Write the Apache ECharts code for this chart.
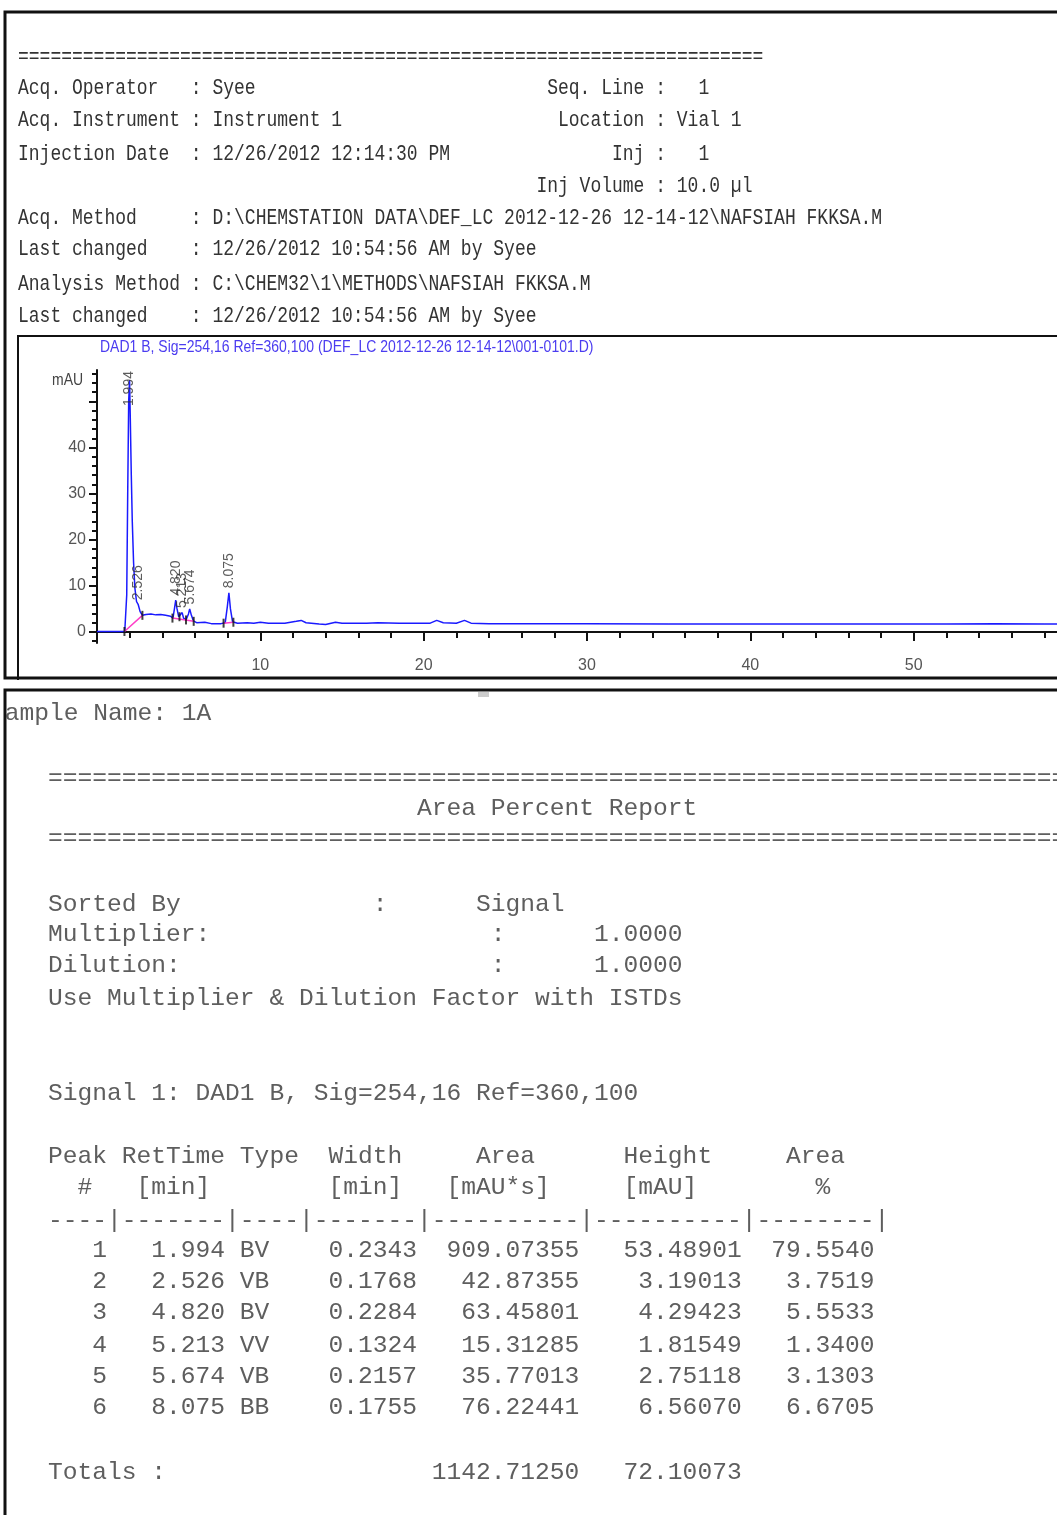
<!DOCTYPE html>
<html>
<head>
<meta charset="utf-8">
<script src="https://cdn.jsdelivr.net/npm/echarts@6/dist/echarts.min.js"></script>
<style>
html, body { margin: 0; padding: 0; background: #fff; overflow: hidden; }
#report { width: 1057px; height: 1515px; }
</style>
</head>
<body>
<div id="report"></div>
<script>
// ---- report header (top box) ----
var headerLeft = [
  'Acq. Operator   : Syee',
  'Acq. Instrument : Instrument 1',
  'Injection Date  : 12/26/2012 12:14:30 PM',
  '',
  'Acq. Method     : D:\\CHEMSTATION DATA\\DEF_LC 2012-12-26 12-14-12\\NAFSIAH FKKSA.M',
  'Last changed    : 12/26/2012 10:54:56 AM by Syee',
  'Analysis Method : C:\\CHEM32\\1\\METHODS\\NAFSIAH FKKSA.M',
  'Last changed    : 12/26/2012 10:54:56 AM by Syee'
];
var headerRight = ['Seq. Line :   1', 'Location : Vial 1', 'Inj :   1', 'Inj Volume : 10.0 µl', '', '', '', ''];
var chartTitle = 'DAD1 B, Sig=254,16 Ref=360,100 (DEF_LC 2012-12-26 12-14-12\\001-0101.D)';

// ---- chromatogram trace (min, mAU) ----
var traceTime = [0, 1.70, 1.76, 1.82, 1.88, 1.94, 1.994, 2.04, 2.10, 2.16, 2.24, 2.32, 2.42, 2.526, 2.64, 2.78,
  2.9, 3.0, 3.3, 3.6, 3.9, 4.2, 4.5, 4.65, 4.75, 4.82, 4.9, 5.0, 5.1, 5.213, 5.3, 5.45, 5.6, 5.674, 5.78, 5.9,
  6.1, 6.6, 7.0, 7.6, 7.85, 7.98, 8.075, 8.17, 8.3, 8.6, 9.2, 9.6, 10.0, 10.5, 11.5, 12.2, 12.5, 12.8, 13.6,
  14.0, 14.6, 15.0, 16.5, 17.2, 18.5, 20.4, 20.8, 21.2, 22.0, 22.5, 22.9, 24, 30, 35, 45, 52, 55, 58, 60];
var traceMAU = [0.1, 0.1, 0.4, 8, 30, 50, 54.6, 46, 34, 24, 15, 9.5, 6.6, 5.9, 4.4, 3.6,
  3.4, 3.8, 3.9, 3.7, 3.8, 3.6, 3.4, 3.0, 5.2, 6.9, 5.0, 3.3, 3.4, 4.2, 3.0, 2.6, 3.9, 5.0, 3.6, 2.4,
  2.0, 2.1, 1.8, 1.8, 2.0, 5.5, 8.5, 5.0, 2.2, 1.9, 2.0, 1.9, 2.1, 1.9, 1.9, 2.3, 2.5, 2.0, 1.7,
  1.6, 2.1, 1.9, 1.9, 2.0, 1.9, 1.9, 2.5, 2.0, 1.9, 2.5, 1.9, 1.8, 1.8, 1.7, 1.7, 1.7, 1.8, 1.7, 1.7];

// integration baselines (pink), null splits segments
var baseTime = [1.68, 2.78, null, 4.62, 5.92, null, 7.75, 8.35];
var baseMAU  = [0.1, 3.6, null, 3.0, 2.3, null, 1.9, 2.1];

// peak start/stop marks
var markTime = [1.68, 2.78, 4.62, 5.05, 5.45, 5.92, 7.75, 8.35];
var markMAU  = [0.1, 3.6, 3.0, 3.3, 2.6, 2.3, 1.9, 2.1];

// ---- Area Percent Report ----
var peakNo = [1, 2, 3, 4, 5, 6];
var retTime = [1.994, 2.526, 4.820, 5.213, 5.674, 8.075];
var peakType = ['BV', 'VB', 'BV', 'VV', 'VB', 'BB'];
var peakWidth = [0.2343, 0.1768, 0.2284, 0.1324, 0.2157, 0.1755];
var peakArea = [909.07355, 42.87355, 63.45801, 15.31285, 35.77013, 76.22441];
var peakHeight = [53.48901, 3.19013, 4.29423, 1.81549, 2.75118, 6.56070];
var areaPct = [79.5540, 3.7519, 5.5533, 1.3400, 3.1303, 6.6705];
var peakApex = [54.6, 5.9, 6.9, 4.2, 5.0, 8.5];
var totalArea = '1142.71250';
var totalHeight = '72.10073';

var yMajorTicks = [0, 10, 20, 30, 40, 50];
var yLabelTicks = [0, 10, 20, 30, 40];
var yMinorTicks = [-2, 2, 4, 6, 8, 12, 14, 16, 18, 22, 24, 26, 28, 32, 34, 36, 38, 42, 44, 46, 48, 52, 54, 56];

function pairs(xs, ys) {
  return xs.map(function (x, i) { return x === null ? ['-', '-'] : [x, ys[i]]; });
}

var graphics = [];
function addText(x, y, s, font) {
  graphics.push({
    type: 'text', x: x, y: y, scaleY: font.sy || 1, silent: true, z: 10,
    style: {
      text: s, fontFamily: font.family, fontSize: font.size, fontWeight: font.weight || 'normal',
      fill: font.color, align: 'left', verticalAlign: 'middle'
    }
  });
}

// top header text
var hdrFont = { family: 'Liberation Mono', size: 18, color: '#333', sy: 1.25 };
var hdrX = 18, hdrCw = 10.8;
var hdrY = [88, 120, 154, 186, 218, 249, 284, 316];
addText(hdrX, 57, new Array(70).join('='), hdrFont);
headerLeft.forEach(function (s, i) {
  if (s) addText(hdrX, hdrY[i], s, hdrFont);
  var r = headerRight[i];
  if (r) addText(hdrX + (59 - r.indexOf(':')) * hdrCw, hdrY[i], r, hdrFont);
});

// chart title and unit
addText(100, 348, chartTitle, { family: 'Liberation Sans', size: 14, color: '#4b3cf0', sy: 1.15 });
addText(52, 380, 'mAU', { family: 'Liberation Sans', size: 14, color: '#444', sy: 1.2 });

// lower report text
var repFont = { family: 'Liberation Mono', size: 24.6, color: '#5e5e5e' };
var repX = 48;
var eqLine = new Array(72).join('=');
addText(-10, 713, 'Sample Name: 1A', repFont);
addText(repX, 778, eqLine, repFont);
addText(repX, 808, new Array(26).join(' ') + 'Area Percent Report', repFont);
addText(repX, 838, eqLine, repFont);
addText(repX, 904, 'Sorted By             :      Signal', repFont);
addText(repX, 934, 'Multiplier:                   :      1.0000', repFont);
addText(repX, 965, 'Dilution:                     :      1.0000', repFont);
addText(repX, 998, 'Use Multiplier & Dilution Factor with ISTDs', repFont);
addText(repX, 1093, 'Signal 1: DAD1 B, Sig=254,16 Ref=360,100', repFont);
addText(repX, 1156, 'Peak RetTime Type  Width     Area      Height     Area', repFont);
addText(repX, 1187, '  #   [min]        [min]   [mAU*s]     [mAU]        %', repFont);
addText(repX, 1220, '----|-------|----|-------|----------|----------|--------|', repFont);
var rowY = [1250, 1281, 1312, 1345, 1376, 1407];
peakNo.forEach(function (n, i) {
  var line = String(n).padStart(4) + retTime[i].toFixed(3).padStart(8) + ' ' + peakType[i].padEnd(4) +
    peakWidth[i].toFixed(4).padStart(8) + peakArea[i].toFixed(5).padStart(11) +
    peakHeight[i].toFixed(5).padStart(11) + areaPct[i].toFixed(4).padStart(9);
  addText(repX, rowY[i], line, repFont);
});
addText(repX, 1472, 'Totals :'.padEnd(25) + totalArea.padStart(11) + totalHeight.padStart(11), repFont);

// frames
graphics.push({ type: 'rect', silent: true, z: 20, shape: { x: 0, y: 690, width: 5, height: 830 },
  style: { fill: '#fff' } });
graphics.push({ type: 'rect', silent: true, z: 21, shape: { x: 5, y: 12, width: 1100, height: 666 },
  style: { fill: 'none', stroke: '#111', lineWidth: 3 } });
graphics.push({ type: 'polyline', silent: true, z: 21, shape: { points: [[18, 680], [18, 336], [1100, 336]] },
  style: { fill: 'none', stroke: '#111', lineWidth: 2 } });
graphics.push({ type: 'polyline', silent: true, z: 21, shape: { points: [[5, 1600], [5, 690], [1100, 690]] },
  style: { fill: 'none', stroke: '#111', lineWidth: 3 } });
graphics.push({ type: 'rect', silent: true, z: 21, shape: { x: 478, y: 692, width: 11, height: 5 },
  style: { fill: '#cccccc' } });

var axisColor = '#111';
var labelStyle = { fontFamily: 'Liberation Sans', fontSize: 16, color: '#555' };

var chart = echarts.init(document.getElementById('report'));
chart.setOption({
  animation: false,
  backgroundColor: '#fff',
  graphic: graphics,
  grid: { left: 97, right: -20, top: 370, bottom: 872, containLabel: false, outerBoundsMode: 'none' },
  xAxis: {
    type: 'value', min: 0, max: 60, interval: 10,
    axisLine: { lineStyle: { color: axisColor, width: 2 } },
    axisTick: { length: 9, lineStyle: { color: axisColor, width: 2 } },
    minorTick: { show: true, splitNumber: 5, length: 6, lineStyle: { color: axisColor, width: 2 } },
    axisLabel: Object.assign({ margin: 15, formatter: function (v) { return v === 0 ? '' : v; } }, labelStyle),
    splitLine: { show: false }
  },
  yAxis: [{
    type: 'value', min: -2.4, max: 56.8, position: 'left',
    axisLine: { show: true, onZero: false, lineStyle: { color: axisColor, width: 2 } },
    axisTick: { show: true, length: 8, customValues: yMajorTicks, lineStyle: { color: axisColor, width: 2 } },
    axisLabel: Object.assign({ margin: 11, customValues: yLabelTicks }, labelStyle),
    splitLine: { show: false }
  }, {
    type: 'value', min: -2.4, max: 56.8, position: 'left',
    axisLine: { show: false },
    axisTick: { show: true, length: 5, customValues: yMinorTicks, lineStyle: { color: axisColor, width: 2 } },
    axisLabel: { show: false },
    splitLine: { show: false }
  }],
  series: [{
    type: 'line', name: 'DAD1 B', data: pairs(traceTime, traceMAU),
    symbol: 'none', lineStyle: { color: '#1a1aff', width: 1.5 }, z: 3
  }, {
    type: 'line', name: 'baseline', data: pairs(baseTime, baseMAU), connectNulls: false,
    symbol: 'none', lineStyle: { color: '#ff3ec8', width: 1.5 }, z: 4
  }, {
    type: 'scatter', name: 'marks', data: pairs(markTime, markMAU),
    symbol: 'rect', symbolSize: [2, 9], itemStyle: { color: '#111' }, z: 5
  }, {
    type: 'scatter', name: 'peaks',
    data: retTime.map(function (t, i) { return [t, Math.min(peakApex[i], 48)]; }),
    symbolSize: 1, itemStyle: { color: 'rgba(0,0,0,0)' }, z: 6,
    label: {
      show: true, position: 'top', distance: 4, rotate: 90, align: 'left', verticalAlign: 'middle',
      fontFamily: 'Liberation Sans', fontSize: 14, color: '#333',
      formatter: function (p) { return retTime[p.dataIndex].toFixed(3); }
    }
  }]
});
</script>
</body>
</html>
